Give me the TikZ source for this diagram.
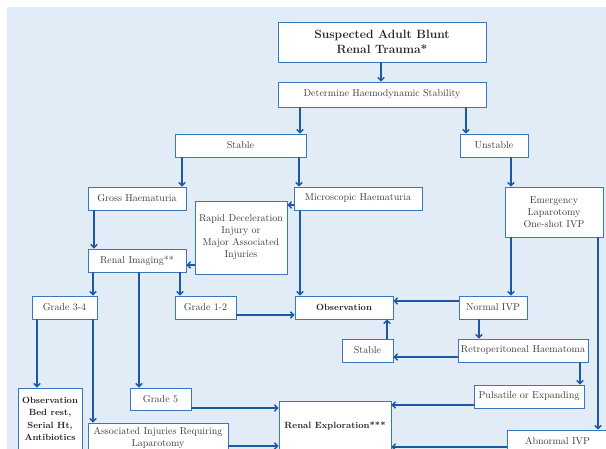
\documentclass[tikz,border=0pt]{standalone}
\usetikzlibrary{arrows.meta}
\definecolor{bgblue}{RGB}{226,236,247}
\definecolor{boxblue}{RGB}{55,120,190}
\definecolor{arrowblue}{RGB}{28,88,165}
\definecolor{txtgray}{RGB}{60,60,60}
\begin{document}
\begin{tikzpicture}[x=1pt,y=-1pt,
  box/.style={draw=boxblue, fill=white, line width=0.95pt, inner sep=0pt, align=center,
    text=txtgray, font=\fontsize{10}{12}\selectfont},
  boldbox/.style={box, text=black!85, font=\fontsize{9}{12.5}\selectfont\bfseries},
  arr/.style={draw=arrowblue, line width=1.3pt, -{Straight Barb[length=3.2pt,width=6.5pt]}}]
\useasboundingbox (0,0) rectangle (606,449);
\clip (0,0) rectangle (606,449);
\fill[bgblue] (6.5,6.7) rectangle (612,460);

% boxes (centre, size)
\node[box, text=black!85, font=\fontsize{12}{15}\selectfont\bfseries,
      minimum width=208pt, minimum height=40pt] (title) at (382,42) {Suspected Adult Blunt\\Renal Trauma*};
\node[box, minimum width=208pt, minimum height=25pt] (det) at (382,94.5) {Determine Haemodynamic Stability};
\node[box, minimum width=131pt, minimum height=23pt] (stab) at (240.5,145.5) {Stable};
\node[box, minimum width=68pt, minimum height=23pt] (unst) at (494,145.5) {Unstable};
\node[box, minimum width=98pt, minimum height=23pt] (gross) at (137,198.5) {Gross Haematuria};
\node[box, minimum width=128pt, minimum height=23pt] (micro) at (358,198.5) {Microscopic Haematuria};
\node[box, minimum width=92pt, minimum height=73pt] (rapid) at (241,237.5) {Rapid Deceleration\\Injury or\\Major Associated\\Injuries};
\node[box, minimum width=98pt, minimum height=50pt] (emerg) at (554,212) {Emergency\\Laparotomy\\One-shot IVP};
\node[box, minimum width=98pt, minimum height=23pt] (rimg) at (137,260.5) {Renal Imaging**};
\node[box, minimum width=65pt, minimum height=23pt] (g34) at (64.5,307.5) {Grade 3-4};
\node[box, minimum width=61pt, minimum height=23pt] (g12) at (205.5,307.5) {Grade 1-2};
\node[boldbox, minimum width=98pt, minimum height=23pt] (obs) at (344,307.5) {Observation};
\node[box, minimum width=68pt, minimum height=23pt] (nivp) at (493,307.5) {Normal IVP};
\node[box, minimum width=51pt, minimum height=23pt] (stab2) at (367.5,350.5) {Stable};
\node[box, minimum width=130pt, minimum height=23pt] (retro) at (523,350.5) {Retroperitoneal Haematoma};
\node[box, minimum width=110pt, minimum height=23pt] (puls) at (529,396.5) {Pulsatile or Expanding};
\node[box, minimum width=61pt, minimum height=22pt] (g5) at (160.5,399) {Grade 5};
\node[boldbox, minimum width=64pt, minimum height=62pt] (obsbed) at (50,419) {Observation\\Bed rest,\\Serial Ht,\\Antibiotics};
\node[box, minimum width=140pt, minimum height=30pt] (assoc) at (158,438) {Associated Injuries Requiring\\Laparotomy};
\node[boldbox, minimum width=112pt, minimum height=50pt] (renexp) at (335,426) {Renal Exploration***};
\node[box, minimum width=101pt, minimum height=23pt] (abivp) at (557.5,441.5) {Abnormal IVP};

% vertical connectors
\draw[arr] (title.south -| 381,0) -- (det.north -| 381,0);
\draw[arr] (det.south -| 300,0) -- (stab.north -| 300,0);
\draw[arr] (det.south -| 466,0) -- (unst.north -| 466,0);
\draw[arr] (stab.south -| 182,0) -- (gross.north -| 182,0);
\draw[arr] (stab.south -| 299,0) -- (micro.north -| 299,0);
\draw[arr] (unst.south -| 511,0) -- (emerg.north -| 511,0);
\draw[arr] (gross.south -| 94,0) -- (rimg.north -| 94,0);
\draw[arr] (rimg.south -| 93,0) -- (g34.north -| 93,0);
\draw[arr] (rimg.south -| 139,0) -- (g5.north -| 139,0);
\draw[arr] (rimg.south -| 180,0) -- (g12.north -| 180,0);
\draw[arr] (micro.south -| 300,0) -- (obs.north -| 300,0);
\draw[arr] (emerg.south -| 511,0) -- (nivp.north -| 511,0);
\draw[arr] (emerg.south -| 598,0) -- (abivp.north -| 598,0);
\draw[arr] (nivp.south -| 479,0) -- (retro.north -| 479,0);
\draw[arr] (stab2.north -| 387,0) -- (obs.south -| 387,0);
\draw[arr] (retro.south -| 580,0) -- (puls.north -| 580,0);
\draw[arr] (g34.south -| 37,0) -- (obsbed.north -| 37,0);
\draw[arr] (g34.south -| 93,0) -- (assoc.north -| 93,0);

% horizontal connectors
\draw[arr] (micro.west |- 0,205) -- (rapid.east |- 0,205);
\draw[arr] (rapid.west |- 0,265) -- (rimg.east |- 0,265);
\draw[arr] (g12.east |- 0,315) -- (obs.west |- 0,315);
\draw[arr] (nivp.west |- 0,301) -- (obs.east |- 0,301);
\draw[arr] (retro.west |- 0,357) -- (stab2.east |- 0,357);
\draw[arr] (puls.west |- 0,405) -- (renexp.east |- 0,405);
\draw[arr] (abivp.west |- 0,447) -- (renexp.east |- 0,447);
\draw[arr] (g5.east |- 0,408) -- (renexp.west |- 0,408);
\draw[arr] (assoc.east |- 0,446) -- (renexp.west |- 0,446);
\end{tikzpicture}
\end{document}
